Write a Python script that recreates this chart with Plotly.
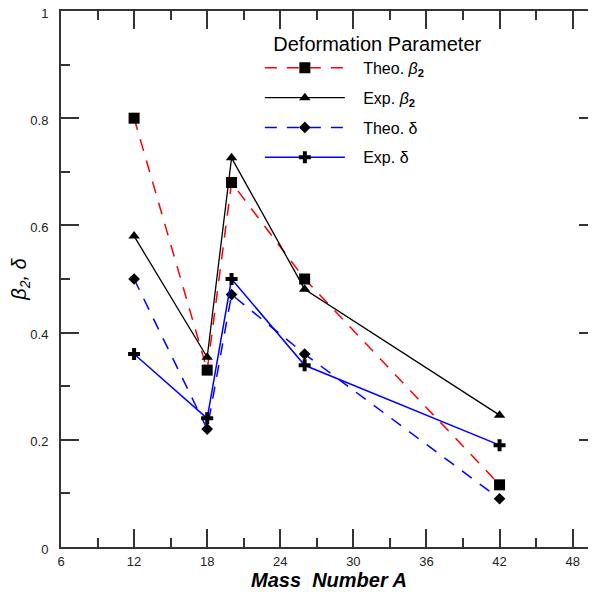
import plotly.graph_objects as go

mass = [12, 18, 20, 26, 42]
theo_beta2 = [0.80, 0.33, 0.68, 0.50, 0.116]
exp_beta2 = [0.58, 0.354, 0.726, 0.481, 0.246]
theo_delta = [0.50, 0.22, 0.471, 0.36, 0.09]
exp_delta = [0.36, 0.24, 0.50, 0.339, 0.19]

x_ticks = [6, 12, 18, 24, 30, 36, 42, 48]
y_ticks = [0, 0.2, 0.4, 0.6, 0.8, 1]
y_ticklabels = ["0", "0.2", "0.4", "0.6", "0.8", "1"]

pad = "\u00a0\u00a0\u00a0"

fig = go.Figure()
fig.add_trace(go.Scatter(x=mass, y=theo_beta2, mode="lines+markers",
                         name=pad + "Theo. <i>β</i><b><sub>2</sub></b>", legendgroup="a",
                         line=dict(color="red", width=1.5, dash="12px,10px"),
                         marker=dict(symbol="square", size=11, color="black")))
fig.add_trace(go.Scatter(x=mass, y=exp_beta2, mode="lines+markers",
                         name=pad + "Exp. <i>β</i><b><sub>2</sub></b>", legendgroup="b",
                         line=dict(color="black", width=1.3),
                         marker=dict(symbol="triangle-up", size=10, color="black")))
fig.add_trace(go.Scatter(x=mass, y=theo_delta, mode="lines+markers",
                         name=pad + "Theo. δ", legendgroup="c",
                         line=dict(color="blue", width=1.5, dash="12px,10px"),
                         marker=dict(symbol="diamond", size=9, color="black")))
fig.add_trace(go.Scatter(x=mass, y=exp_delta, mode="lines+markers",
                         name=pad + "Exp. δ", legendgroup="d",
                         line=dict(color="blue", width=1.5),
                         marker=dict(symbol="cross", size=10, color="black")))

axis_common = dict(showline=True, linecolor="#333", linewidth=2, mirror="ticks",
                   ticks="inside", ticklen=18, tickwidth=2, tickcolor="#333",
                   showgrid=False, zeroline=False, automargin=False,
                   ticklabeloverflow="allow",
                   tickfont=dict(family="Liberation Sans, Arial", size=13, color="#222"))

fig.update_xaxes(range=[6, 50], tickvals=x_ticks, ticktext=[str(v) for v in x_ticks],
                 minor=dict(ticks="inside", ticklen=9, tickwidth=2, tickcolor="#333", dtick=3, tick0=6, showgrid=False),
                 ticklabelstandoff=1,
                 title=dict(text="<b><i>Mass\u00a0\u00a0Number A</i></b>",
                            font=dict(family="Liberation Sans, Arial", size=20, color="black"), standoff=2),
                 **axis_common)
fig.update_yaxes(range=[0, 1], tickvals=y_ticks, ticktext=y_ticklabels,
                 minor=dict(ticks="inside", ticklen=9, tickwidth=2, tickcolor="#333", dtick=0.1, tick0=0, showgrid=False),
                 ticklabelstandoff=8, ticklabelshift=2,
                 title=dict(text="<i>β<sub>2</sub>, δ</i>",
                            font=dict(family="Liberation Sans, Arial", size=20, color="black"), standoff=10),
                 **axis_common)

# the page adds an 8px body margin, so the figure's margins are reduced by 8px on the left/top
fig.update_layout(
    width=596, height=592,
    margin=dict(l=53, r=7, t=3, b=53),
    plot_bgcolor="white", paper_bgcolor="white",
    font=dict(family="Liberation Sans, Arial", color="black"),
    legend=dict(x=0.371, y=0.974, xanchor="left", yanchor="top",
                bgcolor="rgba(0,0,0,0)", itemwidth=80,
                title=dict(text="\u00a0\u00a0Deformation Parameter", font=dict(size=20), side="top center"),
                font=dict(size=16), tracegroupgap=6),
)

fig.write_html("out.html")
